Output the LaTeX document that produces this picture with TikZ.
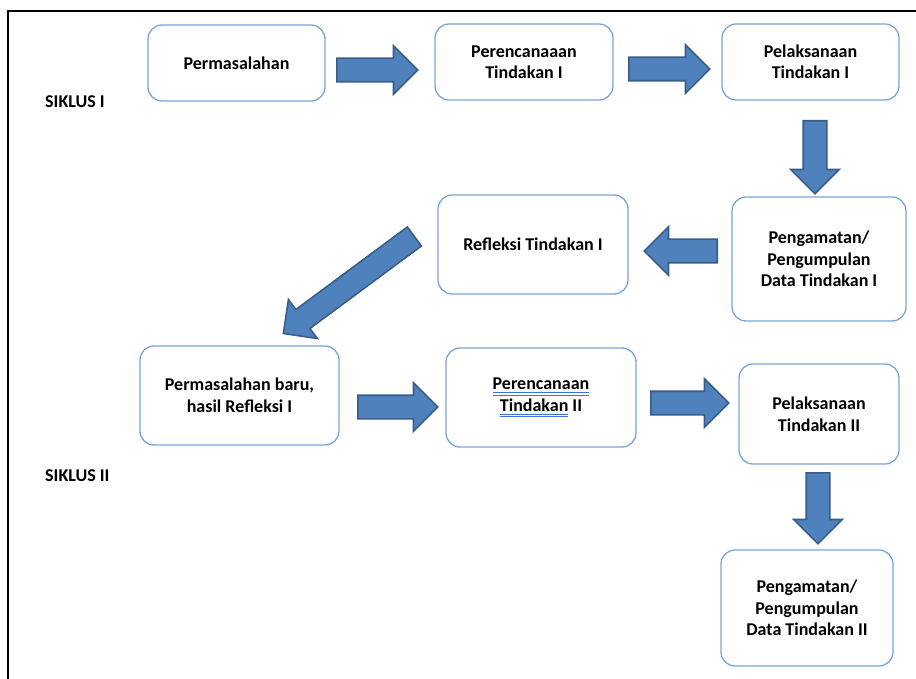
\documentclass[tikz,border=0pt]{standalone}
\usepackage{fontspec}
\setmainfont{Carlito}
\usepackage{tikz}
\usetikzlibrary{shapes.arrows,calc,positioning}

\definecolor{boxblue}{HTML}{7BA3D6}
\definecolor{arrowfill}{HTML}{4F81BD}
\definecolor{arrowedge}{HTML}{385D8A}
\definecolor{ulblue}{HTML}{3F6FD8}

\newsavebox{\katabox}
\newcommand\spelline[1]{\sbox{\katabox}{#1}\leavevmode\rlap{\textcolor{ulblue}{\rule[-0.2em]{\wd\katabox}{0.7pt}}}\rlap{\textcolor{ulblue}{\rule[-0.34em]{\wd\katabox}{0.7pt}}}\usebox{\katabox}}

\newcommand{\blokpanah}[2]{%
\path let \p1 = (#1), \p2 = (#2) in
  node[panah, minimum height = {veclen(\x2-\x1,\y2-\y1)}, rotate = {atan2(\y2-\y1,\x2-\x1)}, anchor = tail] at (\p1) {};}

\begin{document}
\begin{tikzpicture}[x = 1pt, y = -1pt,
  tahap/.style = {draw = boxblue, fill = white, shape = rectangle, rounded corners = 14pt, line width = 1.3pt, align = center, font = \bfseries\fontsize{18}{21.5}\selectfont},
  siklus/.style = {anchor = west, inner sep = 0pt, font = \bfseries\fontsize{18}{21.5}\selectfont},
  panah/.style = {single arrow, draw = arrowedge, fill = arrowfill, line width = 1.6pt, inner sep = 0pt, inner ysep = 11pt, single arrow head extend = 12.5pt, single arrow tip angle = 90}]
\useasboundingbox (0,0) rectangle (916,679);
\draw[line width = 2pt] (8,679) -- (8,11) -- (916,11);

\node[siklus] (s1) at (45,102) {SIKLUS I};
\node[siklus] (s2) at (45,476) {SIKLUS II};

% siklus I
\node[tahap, minimum width = 177pt, minimum height = 76pt] (masalah) at (236.5,63) {Permasalahan};
\node[tahap, minimum width = 178pt, minimum height = 76pt] (rencana1) at (524,62) {Perencanaaan\\Tindakan I};
\node[tahap, minimum width = 177pt, minimum height = 76pt] (laksana1) at (810.5,62) {Pelaksanaan\\Tindakan I};
\node[tahap, minimum width = 174pt, minimum height = 124pt] (amat1) at (819,259) {Pengamatan/\\Pengumpulan\\Data Tindakan I};
\node[tahap, minimum width = 190pt, minimum height = 99pt] (refleksi1) at (533,244.5) {Refleksi Tindakan I};

% siklus II
\node[tahap, minimum width = 199pt, minimum height = 99pt] (masalah2) at (239.5,395.5) {Permasalahan baru,\\hasil Refleksi I};
\node[tahap, minimum width = 190pt, minimum height = 99pt] (rencana2) at (541,397.5) {\spelline{Perencanaan}\\\spelline{Tindakan} II};
\node[tahap, minimum width = 160pt, minimum height = 100pt] (laksana2) at (819,414) {Pelaksanaan\\Tindakan II};
\node[tahap, minimum width = 172pt, minimum height = 116pt] (amat2) at (807,608) {Pengamatan/\\Pengumpulan\\Data Tindakan II};

\coordinate (p1a) at (336,70);  \coordinate (p1b) at (417,70);
\coordinate (p2a) at (628,69);  \coordinate (p2b) at (709,69);
\coordinate (p3a) at (815,120); \coordinate (p3b) at (815,193);
\coordinate (p4a) at (718,251); \coordinate (p4b) at (645,251);
\coordinate (p5a) at (415,236); \coordinate (p5b) at (284,333);
\coordinate (p6a) at (357,407); \coordinate (p6b) at (437,407);
\coordinate (p7a) at (650,403); \coordinate (p7b) at (728,403);
\coordinate (p8a) at (818,472); \coordinate (p8b) at (818,543);

\foreach \i in {1,...,8} {\blokpanah{p\i a}{p\i b}}
\end{tikzpicture}
\end{document}
